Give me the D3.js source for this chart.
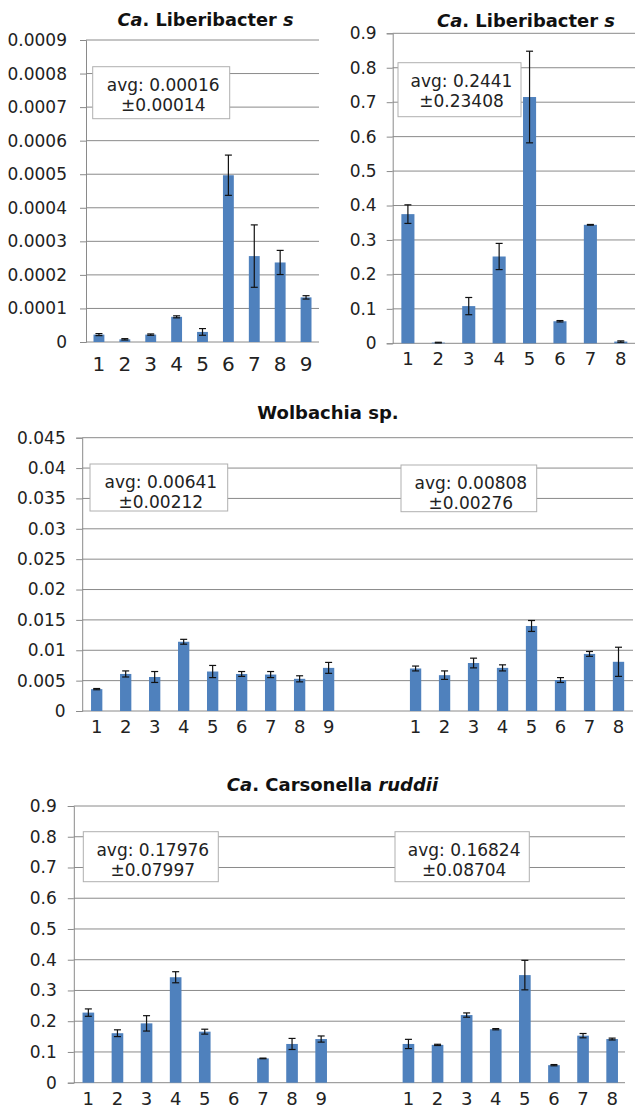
<!DOCTYPE html>
<html>
<head>
<meta charset="utf-8">
<script src="https://cdn.jsdelivr.net/npm/d3@7"></script>
<style>
  body { margin: 0; background: #fff; }
  text { font-family: "DejaVu Sans", Verdana, sans-serif; }
</style>
</head>
<body>
<svg id="chart" width="635" height="1115"></svg>
<script>
// ---- data ----
// Ca. Liberibacter s (left panel, 9 samples)
const libLeftCats = ["1", "2", "3", "4", "5", "6", "7", "8", "9"];
const libLeftVals = [0.000022, 0.000008, 0.000022, 0.000075, 0.00003, 0.000497, 0.000256, 0.000237, 0.000133];
const libLeftErr  = [0.000003, 0.000002, 0.000002, 0.000003, 0.00001, 0.00006, 0.000093, 0.000036, 0.000005];
// Ca. Liberibacter s (right panel, 8 samples)
const libRightCats = ["1", "2", "3", "4", "5", "6", "7", "8"];
const libRightVals = [0.375, 0.002, 0.108, 0.252, 0.715, 0.064, 0.344, 0.005];
const libRightErr  = [0.027, 0.001, 0.025, 0.038, 0.133, 0.002, 0.001, 0.002];
// Wolbachia sp. (two groups)
const wolCatsA = ["1", "2", "3", "4", "5", "6", "7", "8", "9"];
const wolValsA = [0.0036, 0.0061, 0.0056, 0.0114, 0.0065, 0.0061, 0.0060, 0.0053, 0.0071];
const wolErrA  = [0.0001, 0.0005, 0.0009, 0.0004, 0.0010, 0.0004, 0.0005, 0.0005, 0.0009];
const wolCatsB = ["1", "2", "3", "4", "5", "6", "7", "8"];
const wolValsB = [0.0070, 0.0059, 0.0079, 0.0071, 0.0140, 0.0051, 0.0094, 0.0081];
const wolErrB  = [0.0004, 0.0007, 0.0008, 0.0005, 0.0009, 0.0004, 0.0004, 0.0024];
// Ca. Carsonella ruddii (two groups)
const carCatsA = ["1", "2", "3", "4", "5", "6", "7", "8", "9"];
const carValsA = [0.228, 0.161, 0.193, 0.343, 0.166, 0, 0.079, 0.126, 0.142];
const carErrA  = [0.012, 0.011, 0.025, 0.018, 0.008, 0, 0.001, 0.018, 0.010];
const carCatsB = ["1", "2", "3", "4", "5", "6", "7", "8"];
const carValsB = [0.126, 0.123, 0.220, 0.174, 0.350, 0.057, 0.153, 0.142];
const carErrB  = [0.015, 0.002, 0.007, 0.002, 0.048, 0.002, 0.007, 0.003];

// y axis maxima and steps
const libLeftMax = 0.0009, libLeftStep = 0.0001;
const libRightMax = 0.9, libRightStep = 0.1;
const wolMax = 0.045, wolStep = 0.005;
const carMax = 0.9, carStep = 0.1;

// avg annotations
const libLeftAvg = ["avg: 0.00016", "\u00b10.00014"];
const libRightAvg = ["avg: 0.2441", "\u00b10.23408"];
const wolAvgA = ["avg: 0.00641", "\u00b10.00212"];
const wolAvgB = ["avg: 0.00808", "\u00b10.00276"];
const carAvgA = ["avg: 0.17976", "\u00b10.07997"];
const carAvgB = ["avg: 0.16824", "\u00b10.08704"];

const barColor = "#4f81bd";
const gridColor = "#8a8a8a";

const svg = d3.select("#chart");

// build rows: group A, two empty slots, group B
function rows(catsA, valsA, errA, catsB, valsB, errB) {
  const out = catsA.map((c, i) => ({ key: "a" + i, label: c, v: valsA[i], e: errA[i] }));
  if (catsB) {
    out.push({ key: "gap1", label: "", v: null, e: 0 });
    out.push({ key: "gap2", label: "", v: null, e: 0 });
    catsB.forEach((c, i) => out.push({ key: "b" + i, label: c, v: valsB[i], e: errB[i] }));
  }
  return out;
}

function fmt(v) { return String(+v.toFixed(6)); }

function panel(o) {
  const g = svg.append("g");
  const x = d3.scaleBand().domain(o.data.map(d => d.key)).range([o.left, o.right]);
  const y = d3.scaleLinear().domain([0, o.max]).range([o.bottom, o.top]);
  const nT = Math.round(o.max / o.step);
  const ticks = d3.range(0, nT + 1).map(i => i * o.step);

  // gridlines
  g.selectAll(".grid").data(ticks).enter().append("line")
    .attr("x1", o.left).attr("x2", o.gridRight || o.right)
    .attr("y1", d => y(d)).attr("y2", d => y(d))
    .attr("stroke", gridColor).attr("stroke-width", 1);

  // y axis
  const ya = g.append("g").attr("transform", "translate(" + o.left + ",0)")
    .call(d3.axisLeft(y).tickValues(ticks).tickFormat(fmt).tickSize(6).tickPadding(o.pad));
  ya.select(".domain").attr("stroke", gridColor);
  ya.selectAll(".tick line").attr("stroke", gridColor);
  ya.selectAll(".tick text").attr("font-size", 17).attr("fill", "#222")
    .style("font-family", "'DejaVu Sans', Verdana, sans-serif");

  // bars
  const bw = x.bandwidth() * o.barFrac;
  const bars = o.data.filter(d => d.v);
  g.selectAll(".bar").data(bars).enter().append("rect")
    .attr("x", d => x(d.key) + (x.bandwidth() - bw) / 2)
    .attr("y", d => y(d.v))
    .attr("width", bw)
    .attr("height", d => o.bottom - y(d.v))
    .attr("fill", barColor);

  // error bars
  const eb = g.selectAll(".err").data(bars).enter().append("g")
    .attr("stroke", "#111").attr("stroke-width", 1.2);
  const cx = d => x(d.key) + x.bandwidth() / 2;
  eb.append("line").attr("x1", cx).attr("x2", cx)
    .attr("y1", d => y(Math.max(0, d.v - d.e))).attr("y2", d => y(d.v + d.e));
  eb.append("line").attr("x1", d => cx(d) - 3.5).attr("x2", d => cx(d) + 3.5)
    .attr("y1", d => y(d.v + d.e)).attr("y2", d => y(d.v + d.e));
  eb.append("line").attr("x1", d => cx(d) - 3.5).attr("x2", d => cx(d) + 3.5)
    .attr("y1", d => y(Math.max(0, d.v - d.e))).attr("y2", d => y(Math.max(0, d.v - d.e)));

  // x labels
  g.selectAll(".xl").data(o.data.filter(d => d.label)).enter().append("text")
    .attr("x", d => cx(d))
    .attr("y", o.bottom + o.xOff)
    .attr("text-anchor", "middle")
    .attr("font-size", o.xSize)
    .attr("fill", "#222")
    .text(d => d.label);

  // title
  const t = g.append("text")
    .attr("x", o.titleX).attr("y", o.titleY)
    .attr("text-anchor", "middle")
    .attr("font-size", 18).attr("font-weight", "bold").attr("fill", "#111");
  o.title.forEach(p => t.append("tspan").attr("font-style", p[1] ? "italic" : "normal").text(p[0]));
  if (o.titleLen) t.attr("textLength", o.titleLen).attr("lengthAdjust", "spacingAndGlyphs");

  // avg boxes
  o.boxes.forEach(b => {
    g.append("rect").attr("x", b.x).attr("y", b.y).attr("width", b.w).attr("height", b.h)
      .attr("fill", "#fff").attr("stroke", "#b0b0b0").attr("stroke-width", 1);
    b.lines.forEach((s, i) => {
      g.append("text").attr("x", b.x + b.w / 2 + 2).attr("y", b.y + 24 + i * 20)
        .attr("text-anchor", "middle").attr("font-size", 17).attr("fill", "#222").text(s);
    });
  });
}

panel({
  data: rows(libLeftCats, libLeftVals, libLeftErr),
  max: libLeftMax, step: libLeftStep,
  left: 86, right: 319, top: 40, bottom: 342, pad: 13, barFrac: 0.42,
  xOff: 29, xSize: 20,
  title: [["Ca", true], [". Liberibacter ", false], ["s", true]],
  titleX: 205.5, titleY: 26, titleLen: 176,
  boxes: [{ x: 92.7, y: 66.7, w: 137, h: 52, lines: libLeftAvg }]
});

panel({
  data: rows(libRightCats, libRightVals, libRightErr),
  max: libRightMax, step: libRightStep,
  left: 392.7, right: 636, top: 33.3, bottom: 343.3, pad: 10, barFrac: 0.43,
  xOff: 22, xSize: 18,
  title: [["Ca", true], [". Liberibacter ", false], ["s", true]],
  titleX: 526, titleY: 27, titleLen: 178,
  boxes: [{ x: 398, y: 62.7, w: 123, h: 54, lines: libRightAvg }]
});

panel({
  data: rows(wolCatsA, wolValsA, wolErrA, wolCatsB, wolValsB, wolErrB),
  max: wolMax, step: wolStep,
  left: 82.2, right: 633, top: 437.7, bottom: 711, pad: 10.5, barFrac: 0.39,
  xOff: 22, xSize: 18,
  title: [["Wolbachia  sp.", false]],
  titleX: 328, titleY: 419,
  boxes: [
    { x: 90, y: 464, w: 137.7, h: 47, lines: wolAvgA },
    { x: 401, y: 465, w: 135.7, h: 46.7, lines: wolAvgB }
  ]
});

panel({
  data: rows(carCatsA, carValsA, carErrA, carCatsB, carValsB, carErrB),
  max: carMax, step: carStep,
  left: 73.8, right: 626.7, gridRight: 625, top: 806, bottom: 1082.7, pad: 11, barFrac: 0.4,
  xOff: 22, xSize: 18,
  title: [["Ca", true], [". Carsonella ", false], ["ruddii", true]],
  titleX: 332.5, titleY: 791,
  boxes: [
    { x: 83.3, y: 831.7, w: 135, h: 50, lines: carAvgA },
    { x: 395, y: 831.7, w: 134.3, h: 50, lines: carAvgB }
  ]
});
</script>
</body>
</html>
